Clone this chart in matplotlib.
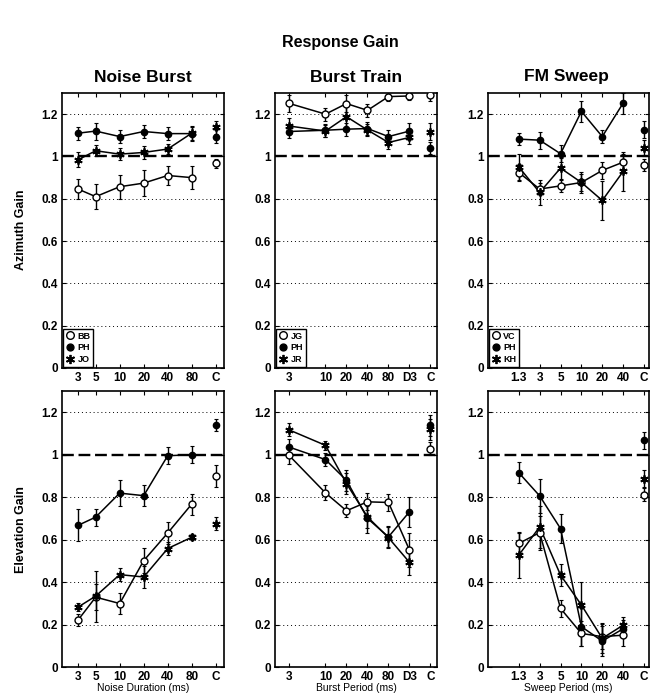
import numpy as np
import matplotlib
matplotlib.use("Agg")
import matplotlib.pyplot as plt
from matplotlib.lines import Line2D

plt.rcParams["font.family"] = ["Liberation Sans", "DejaVu Sans"]
plt.rcParams["font.weight"] = "bold"

# ── Data ──────────────────────────────────────────────────────────────────────
# x categories (last one = control "C", drawn unconnected)
nb_labels = ["3", "5", "10", "20", "40", "80", "C"]
nb_vals = [3, 5, 10, 20, 40, 80, 160]
bt_labels = ["3", "10", "20", "40", "80", "D3", "C"]
bt_vals = [3, 10, 20, 40, 80, 160, 320]
fm_labels = ["1.3", "3", "5", "10", "20", "40", "C"]

nb_subjects = ["BB", "PH", "JO"]
bt_subjects = ["JG", "PH", "JR"]
fm_subjects = ["VC", "PH", "KH"]

# Noise burst
nb_az = [
    [0.846, 0.81, 0.857, 0.874, 0.91, 0.90, 0.967],
    [1.11, 1.12, 1.094, 1.118, 1.108, 1.108, 1.093],
    [0.984, 1.027, 1.011, 1.019, 1.035, 1.11, 1.137],
]
nb_az_err = [
    [0.047, 0.06, 0.057, 0.06, 0.045, 0.053, 0.02],
    [0.03, 0.04, 0.03, 0.03, 0.03, 0.035, 0.03],
    [0.035, 0.025, 0.03, 0.03, 0.025, 0.03, 0.03],
]
nb_el = [
    [0.221, 0.329, 0.299, 0.501, 0.631, 0.767, 0.90],
    [0.667, 0.706, 0.819, 0.807, 0.995, 1.0, 1.14],
    [0.282, 0.334, 0.435, 0.424, 0.558, 0.611, 0.675],
]
nb_el_err = [
    [0.03, 0.06, 0.05, 0.06, 0.05, 0.05, 0.05],
    [0.075, 0.04, 0.06, 0.05, 0.04, 0.04, 0.03],
    [0.02, 0.12, 0.03, 0.05, 0.03, 0.015, 0.03],
]

# Burst train
bt_az = [
    [1.251, 1.20, 1.25, 1.218, 1.283, 1.286, 1.29],
    [1.118, 1.124, 1.129, 1.132, 1.094, 1.12, 1.04],
    [1.144, 1.12, 1.188, 1.125, 1.066, 1.09, 1.118],
]
bt_az_err = [
    [0.04, 0.03, 0.04, 0.03, 0.02, 0.02, 0.03],
    [0.03, 0.03, 0.03, 0.03, 0.03, 0.04, 0.03],
    [0.04, 0.03, 0.06, 0.03, 0.03, 0.03, 0.04],
]
bt_el = [
    [0.997, 0.82, 0.736, 0.778, 0.775, 0.551, 1.028],
    [1.036, 0.977, 0.879, 0.70, 0.613, 0.731, 1.138],
    [1.117, 1.044, 0.864, 0.707, 0.609, 0.493, 1.12],
]
bt_el_err = [
    [0.04, 0.035, 0.03, 0.04, 0.04, 0.08, 0.03],
    [0.04, 0.03, 0.05, 0.07, 0.05, 0.07, 0.05],
    [0.03, 0.02, 0.05, 0.05, 0.05, 0.06, 0.05],
]

# FM sweep
fm_az = [
    [0.924, 0.846, 0.861, 0.877, 0.934, 0.973, 0.96],
    [1.082, 1.077, 1.013, 1.213, 1.094, 1.252, 1.126],
    [0.95, 0.83, 0.945, 0.877, 0.792, 0.929, 1.04],
]
fm_az_err = [
    [0.04, 0.03, 0.03, 0.04, 0.04, 0.04, 0.03],
    [0.03, 0.04, 0.04, 0.05, 0.03, 0.05, 0.04],
    [0.06, 0.06, 0.05, 0.05, 0.09, 0.09, 0.04],
]
fm_el = [
    [0.582, 0.633, 0.276, 0.158, 0.143, 0.15, 0.812],
    [0.915, 0.806, 0.652, 0.19, 0.122, 0.18, 1.067],
    [0.527, 0.66, 0.433, 0.292, 0.135, 0.197, 0.887],
]
fm_el_err = [
    [0.05, 0.08, 0.04, 0.06, 0.06, 0.05, 0.03],
    [0.05, 0.08, 0.07, 0.09, 0.07, 0.04, 0.04],
    [0.11, 0.1, 0.05, 0.11, 0.07, 0.04, 0.04],
]

# ── Styling ───────────────────────────────────────────────────────────────────
ASTER = (6, 2, 0)
MARKERS = [
    dict(marker="o", ms=5, mfc="white", mec="black", mew=1.0),
    dict(marker="o", ms=4.5, mfc="black", mec="black", mew=1.0),
    dict(marker=ASTER, ms=6, mfc="black", mec="black", mew=1.3),
]

W, H = 650, 696
fig = plt.figure(figsize=(W / 100, H / 100), dpi=100)


def px_axes(x0, y0, x1, y1):
    return fig.add_axes([x0 / W, 1 - y1 / H, (x1 - x0) / W, (y1 - y0) / H])


def draw_panel(ax, xpos, labels, series, errs, xlim, subjects=None, xlabel=None):
    for i, (vals, err) in enumerate(zip(series, errs)):
        ax.plot(xpos[:-1], vals[:-1], color="black", lw=1.1, zorder=3)
        ax.errorbar(xpos, vals, yerr=err, fmt="none", ecolor="black",
                    elinewidth=1.0, capsize=1.5, capthick=0.8, zorder=3)
        ax.plot(xpos, vals, ls="none", zorder=4, **MARKERS[i])
    ax.axhline(1.0, color="black", lw=1.7, ls=(0, (5, 2)), zorder=2)
    ax.set_ylim(0, 1.3)
    ax.set_xlim(*xlim)
    ax.set_yticks(np.arange(0, 1.21, 0.2))
    ax.set_yticklabels(["0", "0.2", "0.4", "0.6", "0.8", "1", "1.2"])
    ax.set_xticks(xpos)
    ax.set_xticklabels(labels)
    for y in np.arange(0.2, 1.21, 0.2):
        if abs(y - 1.0) > 1e-6:
            ax.axhline(y, color="black", lw=0.7, ls=(0, (1, 3)), zorder=1)
    ax.tick_params(direction="in", top=True, right=True, length=3,
                   width=0.8, labelsize=8.5, pad=3)
    for s in ax.spines.values():
        s.set_linewidth(1.2)
    if xlabel:
        ax.set_xlabel(xlabel, fontsize=7.5, labelpad=0)
    if subjects:
        handles = [Line2D([], [], ls="none", **MARKERS[i]) for i in range(3)]
        leg = ax.legend(handles, subjects, loc="lower left", fontsize=6.5,
                        handlelength=0.9, handletextpad=0.35, borderpad=0.3,
                        labelspacing=0.3, fancybox=False, borderaxespad=0.15,
                        framealpha=1, markerscale=1.1)
        leg.get_frame().set_edgecolor("black")
        leg.get_frame().set_linewidth(1.0)


nb_pos = np.log2(nb_vals)
bt_pos = np.log2(bt_vals)
fm_pos = np.arange(len(fm_labels))

nb_lim = (0.918, 7.668)
bt_lim = (0.918, 8.633)
fm_lim = (-1.476, 6.24)

ax1 = px_axes(62, 93, 224, 368)
ax2 = px_axes(275, 93, 437, 368)
ax3 = px_axes(488, 93, 649, 368)
ax4 = px_axes(62, 391, 224, 667)
ax5 = px_axes(275, 391, 437, 667)
ax6 = px_axes(488, 391, 649, 667)

draw_panel(ax1, nb_pos, nb_labels, nb_az, nb_az_err, nb_lim, subjects=nb_subjects)
draw_panel(ax2, bt_pos, bt_labels, bt_az, bt_az_err, bt_lim, subjects=bt_subjects)
draw_panel(ax3, fm_pos, fm_labels, fm_az, fm_az_err, fm_lim, subjects=fm_subjects)
draw_panel(ax4, nb_pos, nb_labels, nb_el, nb_el_err, nb_lim, xlabel="Noise Duration (ms)")
draw_panel(ax5, bt_pos, bt_labels, bt_el, bt_el_err, bt_lim, xlabel="Burst Period (ms)")
draw_panel(ax6, fm_pos, fm_labels, fm_el, fm_el_err, fm_lim, xlabel="Sweep Period (ms)")

fig.text(340 / W, 1 - 42 / H, "Response Gain", ha="center", va="center",
         fontsize=11.5, fontweight="bold")
for x, t in [(143, "Noise Burst"), (356, "Burst Train"), (566, "FM Sweep")]:
    fig.text(x / W, 1 - 77 / H, t, ha="center", va="center",
             fontsize=12.5, fontweight="bold")
fig.text(21 / W, 1 - 230 / H, "Azimuth Gain", rotation=90, ha="center",
         va="center", fontsize=9, fontweight="bold")
fig.text(21 / W, 1 - 530 / H, "Elevation Gain", rotation=90, ha="center",
         va="center", fontsize=9, fontweight="bold")

fig.savefig("out.png", dpi=100)
